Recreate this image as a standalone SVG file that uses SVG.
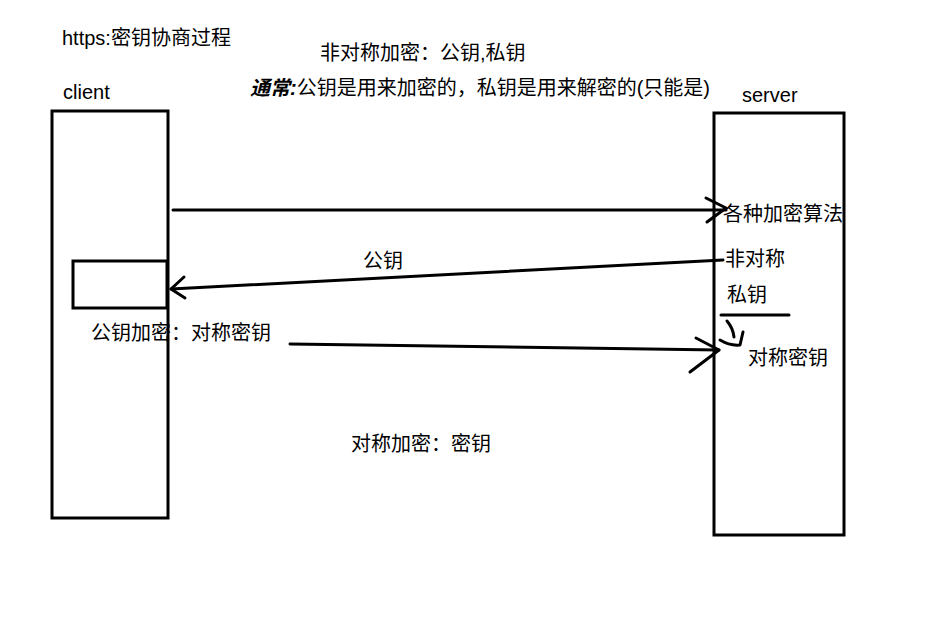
<svg xmlns="http://www.w3.org/2000/svg" width="932" height="629" viewBox="0 0 932 629">
<style>
text{font-family:"Liberation Sans","Noto Sans CJK SC",sans-serif;font-size:20px;fill:#000}
.box{fill:none;stroke:#000;stroke-width:3}
.ln{fill:none;stroke:#000;stroke-width:3;stroke-linecap:round;stroke-linejoin:round}
</style>
<rect width="932" height="629" fill="#fff"/>
<text x="62" y="45">https:密钥协商过程</text>
<text x="320" y="60">非对称加密：公钥,私钥</text>
<text x="250" y="95"><tspan font-weight="bold" font-style="italic">通常:</tspan>公钥是用来加密的，私钥是用来解密的(只能是)</text>
<g id="client">
<rect class="box" x="52" y="111" width="116" height="407"/>
<text x="63" y="99">client</text>
</g>
<g id="client-key">
<rect class="box" x="73" y="261" width="94" height="47"/>
</g>
<g id="server">
<rect class="box" x="714" y="113" width="130" height="422"/>
<text x="742" y="102">server</text>
<text x="723" y="221">各种加密算法</text>
<text x="725" y="266">非对称</text>
<text x="727" y="302">私钥</text>
<text x="748" y="365">对称密钥</text>
</g>
<g id="labels">
<text x="363" y="268">公钥</text>
<text x="91" y="340">公钥加密：对称密钥</text>
<text x="351" y="451">对称加密：密钥</text>
</g>
<g id="connectors">
<path class="ln" d="M173 210 L726 210"/>
<path class="ln" d="M706 198 L726 208 L707 222"/>
<path class="ln" d="M723 260 L171 289"/>
<path class="ln" d="M184 277 L171 289 L185 298"/>
<path class="ln" d="M290 344 L719 350"/>
<path class="ln" d="M696 338 L719 350 L690 372"/>
<path class="ln" d="M721 315 L789 315"/>
<path class="ln" d="M727 321 Q733 328 734 337"/>
<path class="ln" d="M720 340 Q730 346 740 345 L743 332"/>
</g>
</svg>
